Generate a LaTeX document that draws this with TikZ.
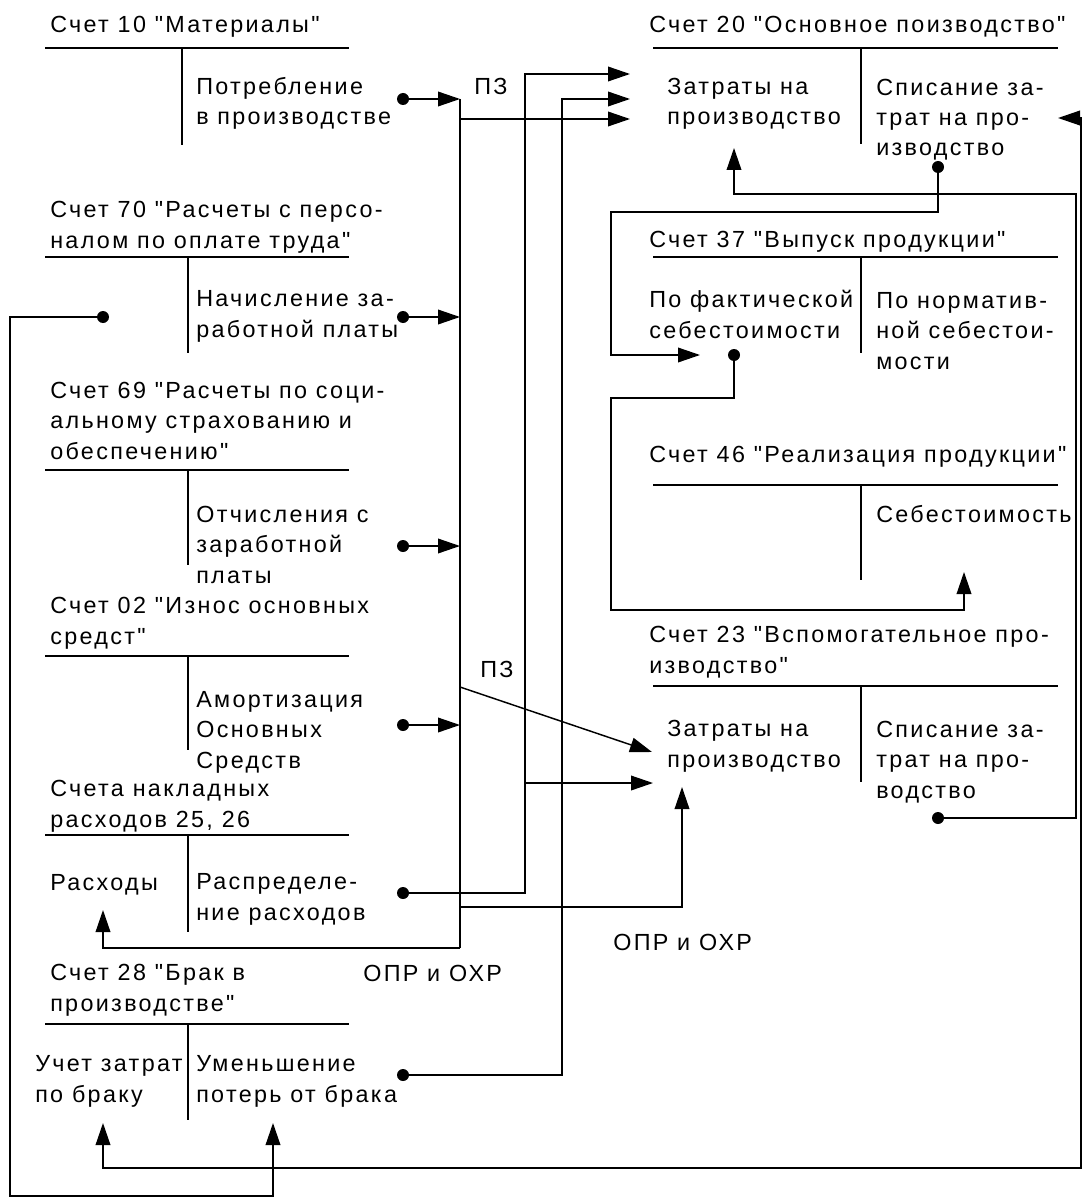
\documentclass[tikz,border=0pt]{standalone}
\usepackage{fontspec}
\setmainfont{Liberation Sans}[LetterSpace=10,Ligatures=TeXOff]
\usetikzlibrary{arrows.meta}
\begin{document}
\begin{tikzpicture}[x=0.75pt,y=-0.75pt,
  wire/.style={line width=1.1pt},
  tip/.tip={Triangle[length=16.5pt,width=11pt]},
  arr/.style={wire,-tip},
  arrboth/.style={wire,tip-tip},
  jdot/.style={circle,fill,inner sep=0pt,minimum size=9pt},
  % multi-line labels are placed by the baseline of their last line
  lbl/.style={anchor=base west,inner sep=0pt,align=left,
              font=\fontsize{17.5}{22.8}\selectfont},
  tline/.style={line width=1.1pt}]
\useasboundingbox (0,0) rectangle (1089,1202);

% ---------- T-accounts, left column ----------
\draw[tline] (45,48) -- (349,48) (182,48) -- (182,145);
\draw[tline] (45,257) -- (349,257) (188,257) -- (188,353);
\draw[tline] (45,470) -- (349,470) (188,470) -- (188,565);
\draw[tline] (45,656) -- (349,656) (188,656) -- (188,750);
\draw[tline] (45,835) -- (349,835) (188,835) -- (188,932);
\draw[tline] (45,1024) -- (349,1024) (188,1024) -- (188,1120);

% ---------- T-accounts, right column ----------
\draw[tline] (653,48) -- (1058,48) (861,48) -- (861,144);
\draw[tline] (653,257) -- (1058,257) (861,257) -- (861,353);
\draw[tline] (653,485) -- (1058,485) (861,485) -- (861,580);
\draw[tline] (653,686) -- (1058,686) (861,686) -- (861,782);

% ---------- account titles ----------
\node[lbl] (h10) at (50,33) {Счет 10 "Материалы"};
\node[lbl] (h70) at (50,248) {Счет 70 "Расчеты с персо-\\налом по оплате труда"};
\node[lbl] (h69) at (50,459) {Счет 69 "Расчеты по соци-\\альному страхованию и\\обеспечению"};
\node[lbl] (h02) at (50,644) {Счет 02 "Износ основных\\средст"};
\node[lbl] (h25) at (50,827) {Счета накладных\\расходов 25, 26};
\node[lbl] (h28) at (50,1011) {Счет 28 "Брак в\\производстве"};
\node[lbl] (h20) at (649,33) {Счет 20 "Основное поизводство"};
\node[lbl] (h37) at (649,247) {Счет 37 "Выпуск продукции"};
\node[lbl] (h46) at (649,462) {Счет 46 "Реализация продукции"};
\node[lbl] (h23) at (649,673) {Счет 23 "Вспомогательное про-\\изводство"};

% ---------- entries ----------
\node[lbl] (e10) at (196,125) {Потребление\\в производстве};
\node[lbl] (e70) at (196,337) {Начисление за-\\работной платы};
\node[lbl] (e69) at (196,583) {Отчисления с\\заработной\\платы};
\node[lbl] (e02) at (196,768) {Амортизация\\Основных\\Средств};
\node[lbl] (e25d) at (50,890) {Расходы};
\node[lbl] (e25) at (196,920) {Распределе-\\ние расходов};
\node[lbl] (e28d) at (35,1102) {Учет затрат\\по браку};
\node[lbl] (e28) at (196,1102) {Уменьшение\\потерь от брака};
\node[lbl] (e20d) at (667,125) {Затраты на\\производство};
\node[lbl] (e20) at (876,156) {Списание за-\\трат на про-\\изводство};
\node[lbl] (e37d) at (649,338) {По фактической\\себестоимости};
\node[lbl] (e37) at (876,369) {По норматив-\\ной себестои-\\мости};
\node[lbl] (e46) at (876,522) {Себестоимость};
\node[lbl] (e23d) at (667,767) {Затраты на\\производство};
\node[lbl] (e23) at (876,798) {Списание за-\\трат на про-\\водство};

% ---------- connector labels ----------
\node[lbl] (pz1) at (474,95) {ПЗ};
\node[lbl] (pz2) at (480,677) {ПЗ};
\node[lbl] (opr1) at (363,981) {ОПР и ОХР};
\node[lbl] (opr2) at (613,950) {ОПР и ОХР};

% ---------- source dots ----------
\node[jdot] (p10) at (403,99) {};
\node[jdot] (p70) at (403,317) {};
\node[jdot] (p70l) at (103,317) {};
\node[jdot] (p69) at (403,546) {};
\node[jdot] (p02) at (403,725) {};
\node[jdot] (p25) at (403,893) {};
\node[jdot] (p28) at (403,1075) {};
\node[jdot] (p20) at (938,167) {};
\node[jdot] (p37) at (734,355) {};
\node[jdot] (p23) at (938,818) {};

% ---------- collecting line and bend points ----------
\coordinate (bus10) at (460,99);
\coordinate (bus70) at (460,317);
\coordinate (bus69) at (460,546);
\coordinate (bus02) at (460,725);
\coordinate (bus20) at (460,119);
\coordinate (bus23a) at (460,687);
\coordinate (bus23b) at (460,907);
\coordinate (busEnd) at (460,948);
\coordinate (k25) at (525,74);
\coordinate (k25b) at (525,783);
\coordinate (k28) at (562,99);
\coordinate (k37a) at (611,212);
\coordinate (k46a) at (611,398);
\coordinate (k46b) at (964,610);
\coordinate (k20a) at (1076,194);
\coordinate (k28a) at (1081,118);
\coordinate (k28b) at (103,1168);
\coordinate (k70a) at (10,1196);

% ---------- arrow targets ----------
\coordinate (t20a) at (630,74);
\coordinate (t20b) at (630,99);
\coordinate (t20c) at (630,119);
\coordinate (t20d) at (734,148);
\coordinate (t20e) at (1058,118);
\coordinate (t37) at (700,355);
\coordinate (t46) at (964,572);
\coordinate (t23a) at (652,752);
\coordinate (t23b) at (653,783);
\coordinate (t23c) at (682,787);
\coordinate (tRas) at (103,910);
\coordinate (t28a) at (103,1123);
\coordinate (t28b) at (273,1123);

% ---------- postings into the collecting line ----------
\draw[arr] (p10) -- (bus10);
\draw[arr] (p70) -- (bus70);
\draw[arr] (p69) -- (bus69);
\draw[arr] (p02) -- (bus02);
\draw[wire] (bus10) -- (busEnd);

% ---------- collecting line outputs ----------
\draw[arr] (bus20) -- (t20c);
\draw[arr] (bus23a) -- (t23a);
\draw[arr] (bus23b) -| (t23c);
\draw[arr] (busEnd) -| (tRas);

% ---------- overhead distribution ----------
\draw[arr] (p25) -| (k25) -- (t20a);
\draw[arr] (k25b) -- (t23b);

% ---------- spoilage ----------
\draw[arr] (p28) -| (k28) -- (t20b);

% ---------- main production -> output ----------
\draw[arr] (p20) |- (k37a) |- (t37);
\draw[arr] (p37) |- (k46a) |- (k46b) -- (t46);

% ---------- auxiliary production -> main production ----------
\draw[arr] (p23) -| (k20a) -| (t20d);

% ---------- main production <-> spoilage ----------
\draw[arrboth] (t20e) -- (k28a) |- (k28b) -- (t28a);

% ---------- wages -> spoilage ----------
\draw[arr] (p70l) -| (k70a) -| (t28b);
\end{tikzpicture}
\end{document}
